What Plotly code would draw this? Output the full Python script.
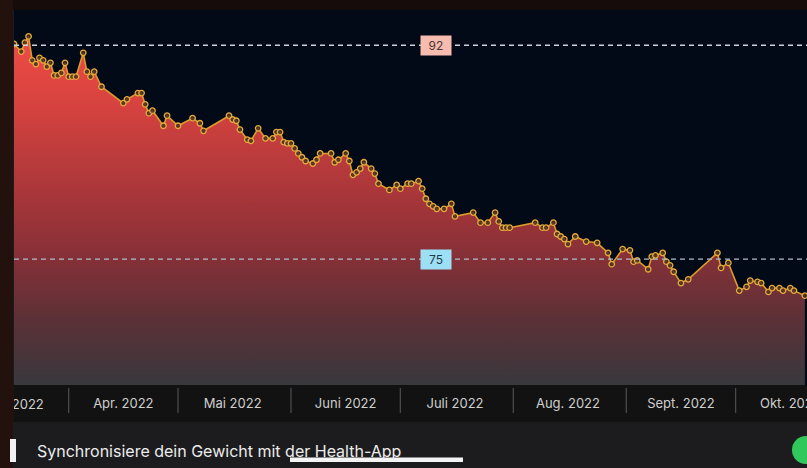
import plotly.graph_objects as go

# ---------------- data ----------------
dates = [
    "2022-03-17", "2022-03-19", "2022-03-20", "2022-03-21", "2022-03-22", "2022-03-23",
    "2022-03-24", "2022-03-25", "2022-03-26", "2022-03-27", "2022-03-28", "2022-03-29",
    "2022-03-30", "2022-03-31", "2022-04-01", "2022-04-02", "2022-04-03", "2022-04-05",
    "2022-04-06", "2022-04-07", "2022-04-08", "2022-04-10", "2022-04-16", "2022-04-17",
    "2022-04-20", "2022-04-21", "2022-04-22", "2022-04-23", "2022-04-24", "2022-04-27",
    "2022-04-28", "2022-05-01", "2022-05-05", "2022-05-07", "2022-05-08", "2022-05-15",
    "2022-05-16", "2022-05-17", "2022-05-18", "2022-05-20", "2022-05-21", "2022-05-23",
    "2022-05-25", "2022-05-27", "2022-05-28", "2022-05-29", "2022-05-30", "2022-05-31",
    "2022-06-01", "2022-06-02", "2022-06-03", "2022-06-04", "2022-06-05", "2022-06-07",
    "2022-06-08", "2022-06-09", "2022-06-12", "2022-06-13", "2022-06-14", "2022-06-16",
    "2022-06-17", "2022-06-18", "2022-06-19", "2022-06-20", "2022-06-21", "2022-06-23",
    "2022-06-24", "2022-06-25", "2022-06-28", "2022-06-30", "2022-07-01", "2022-07-03",
    "2022-07-04", "2022-07-06", "2022-07-07", "2022-07-08", "2022-07-09", "2022-07-10",
    "2022-07-11", "2022-07-13", "2022-07-15", "2022-07-16", "2022-07-21", "2022-07-23",
    "2022-07-25", "2022-07-27", "2022-07-28", "2022-07-29", "2022-07-30", "2022-07-31",
    "2022-08-07", "2022-08-09", "2022-08-10", "2022-08-12", "2022-08-13", "2022-08-14",
    "2022-08-15", "2022-08-16", "2022-08-18", "2022-08-21", "2022-08-24", "2022-08-27",
    "2022-08-28", "2022-08-31", "2022-09-02", "2022-09-03", "2022-09-04", "2022-09-07",
    "2022-09-08", "2022-09-09", "2022-09-11", "2022-09-12", "2022-09-13", "2022-09-14",
    "2022-09-16", "2022-09-18", "2022-09-26", "2022-09-27", "2022-09-29", "2022-10-02",
    "2022-10-04", "2022-10-05", "2022-10-07", "2022-10-08", "2022-10-10", "2022-10-11",
    "2022-10-13", "2022-10-14", "2022-10-16", "2022-10-17", "2022-10-20",
]
weights = [
    92.1, 91.5, 92.2, 92.7, 90.8, 90.5,
    91.0, 90.8, 90.3, 90.6, 89.6, 89.6,
    89.8, 90.6, 89.5, 89.5, 89.5, 91.4,
    89.9, 89.5, 89.9, 88.7, 87.4, 87.7,
    88.2, 88.2, 87.3, 86.6, 86.8, 85.6,
    86.4, 85.6, 86.2, 85.8, 85.2, 86.4,
    86.1, 86.0, 85.3, 84.5, 84.4, 85.4,
    84.6, 84.6, 85.1, 85.1, 84.3, 84.2,
    84.2, 83.8, 83.4, 83.1, 82.8, 82.6,
    82.9, 83.4, 83.4, 82.7, 82.9, 83.4,
    82.8, 81.7, 81.9, 82.2, 82.7, 82.2,
    81.8, 81.0, 80.5, 80.9, 80.6, 81.0,
    81.0, 81.2, 80.6, 79.8, 79.4, 79.2,
    79.0, 79.0, 79.4, 78.4, 78.7, 77.9,
    77.9, 78.7, 78.0, 77.5, 77.5, 77.5,
    77.9, 77.5, 77.5, 77.9, 77.0, 76.8,
    76.6, 76.2, 76.8, 76.4, 76.3, 75.5,
    74.6, 75.8, 75.7, 74.8, 74.9, 74.2,
    75.2, 75.3, 75.5, 74.8, 74.5, 74.0,
    73.1, 73.4, 75.5, 74.3, 74.7, 72.5,
    72.8, 73.3, 73.2, 73.1, 72.4, 72.7,
    72.7, 72.5, 72.7, 72.5, 72.1,
]

month_starts = ["2022-04-01", "2022-05-01", "2022-06-01", "2022-07-01",
                "2022-08-01", "2022-09-01", "2022-10-01"]
tick_dates = ["2022-04-16", "2022-05-16", "2022-06-16", "2022-07-16",
              "2022-08-16", "2022-09-16", "2022-10-16"]
tick_labels = ["Apr. 2022", "Mai 2022", "Juni 2022", "Juli 2022",
               "Aug. 2022", "Sept. 2022", "Okt. 2022"]
march_label = "März 2022"
ref_high = 92
ref_low = 75
sync_text = "Synchronisiere dein Gewicht mit der Health-App"

# ---------------- figure ----------------
W, H = 807, 468
ML, MR, MT, MB = 14, 0, 10, 83
PW = W - ML - MR
PH = H - MT - MB


def px_x(x):
    return (x - ML) / PW


def px_y(y):
    return (H - MB - y) / PH


fig = go.Figure()

fig.add_trace(go.Scatter(
    x=dates, y=weights,
    mode="lines+markers",
    fill="tozeroy",
    fillgradient=dict(
        type="vertical", start=65, stop=93,
        colorscale=[[0.0, "#38383d"], [0.18, "#5a3137"], [0.36, "#853037"],
                    [0.54, "#a8363a"], [0.79, "#d5423f"], [1.0, "#f24c46"]],
    ),
    line=dict(color="#dc9a2c", width=1.6),
    marker=dict(size=5.5, color="rgba(70,45,30,0.85)",
                line=dict(color="#e6ab3e", width=1.3)),
    hoverinfo="skip",
    showlegend=False,
))

shapes = []
# top band
shapes.append(dict(type="rect", xref="paper", yref="paper",
                   x0=px_x(-2), x1=px_x(W + 2), y0=px_y(MT), y1=px_y(-2),
                   fillcolor="#160d0b", line_width=0, layer="below"))
# x-axis band
shapes.append(dict(type="rect", xref="paper", yref="paper",
                   x0=px_x(-2), x1=px_x(W + 2), y0=px_y(422), y1=px_y(H - MB),
                   fillcolor="#121212", line_width=0, layer="below"))
# left strip
shapes.append(dict(type="rect", xref="paper", yref="paper",
                   x0=px_x(-2), x1=px_x(13), y0=px_y(H + 2), y1=px_y(-2),
                   fillcolor="#22110c", line_width=0, layer="below"))
# month separators
for d in month_starts:
    shapes.append(dict(type="line", xref="x", yref="paper",
                       x0=d, x1=d, y0=px_y(388), y1=px_y(413),
                       line=dict(color="#4e4e50", width=1.2), layer="above"))
# reference dashed lines
shapes.append(dict(type="line", xref="paper", yref="y", x0=0, x1=1,
                   y0=ref_high, y1=ref_high,
                   line=dict(color="#cfd0da", width=1.3, dash="5px,4px")))
shapes.append(dict(type="line", xref="paper", yref="y", x0=0, x1=1,
                   y0=ref_low, y1=ref_low,
                   line=dict(color="#aebccc", width=1.3, dash="5px,4px")))
# white element at the left of the bottom row
shapes.append(dict(type="rect", xref="paper", yref="paper",
                   x0=px_x(10), x1=px_x(16), y0=px_y(462), y1=px_y(439),
                   fillcolor="#f2f2f2", line_width=0, layer="above"))
# home indicator
shapes.append(dict(type="rect", xref="paper", yref="paper",
                   x0=px_x(290), x1=px_x(463), y0=px_y(462), y1=px_y(457.5),
                   fillcolor="#f4f4f4", line_width=0, layer="above"))
# green toggle
shapes.append(dict(type="circle", xref="paper", yref="paper",
                   x0=px_x(792), x1=px_x(820), y0=px_y(464), y1=px_y(436),
                   fillcolor="#30c85a", line_width=0, layer="above"))

annotations = []
# March label (cut off at the left edge)
annotations.append(dict(text=march_label, xref="paper", yref="paper",
                        x=px_x(46), y=px_y(404), xanchor="right", yanchor="middle",
                        showarrow=False, font=dict(family="Inter", size=13, color="#cfcfcf")))
# cover for the left strip over the axis band
annotations.append(dict(text=" ", xref="paper", yref="paper",
                        x=px_x(-1), y=px_y(386), xanchor="left", yanchor="top",
                        width=15, height=36, bgcolor="#22110c", borderpad=0,
                        borderwidth=0, showarrow=False, font=dict(size=1)))
# reference labels
annotations.append(dict(text=str(ref_high), xref="paper", yref="y",
                        x=px_x(436), y=ref_high, showarrow=False,
                        bgcolor="#f7bcb0", borderpad=3, width=24, height=13,
                        font=dict(family="Inter", size=12, color="#4a3434")))
annotations.append(dict(text=str(ref_low), xref="paper", yref="y",
                        x=px_x(436), y=ref_low, showarrow=False,
                        bgcolor="#9ddff5", borderpad=3, width=24, height=13,
                        font=dict(family="Inter", size=12, color="#1d3b4b")))
# bottom row text
annotations.append(dict(text=sync_text, xref="paper", yref="paper",
                        x=px_x(35), y=px_y(451), xanchor="left", yanchor="middle",
                        showarrow=False, font=dict(family="Inter", size=16, color="#ececec")))

fig.update_layout(
    width=W, height=H,
    margin=dict(l=ML, r=MR, t=MT, b=MB, pad=0, autoexpand=False),
    paper_bgcolor="#1c1c1e",
    plot_bgcolor="#020a18",
    shapes=shapes,
    annotations=annotations,
    showlegend=False,
    xaxis=dict(
        type="date",
        range=["2022-03-17", "2022-10-20 14:00"],
        tickvals=tick_dates, ticktext=tick_labels,
        showgrid=False, zeroline=False, showline=False, ticks="",
        ticklabelstandoff=9,
        ticklabeloverflow="allow",
        automargin=False,
        tickfont=dict(family="Inter", size=13, color="#cfcfcf"),
        fixedrange=True,
    ),
    yaxis=dict(
        range=[65, 94.8],
        showgrid=False, zeroline=False, showline=False,
        showticklabels=False, ticks="", fixedrange=True,
        automargin=False,
    ),
)

fig.write_html("out.html", config={"displayModeBar": False})
